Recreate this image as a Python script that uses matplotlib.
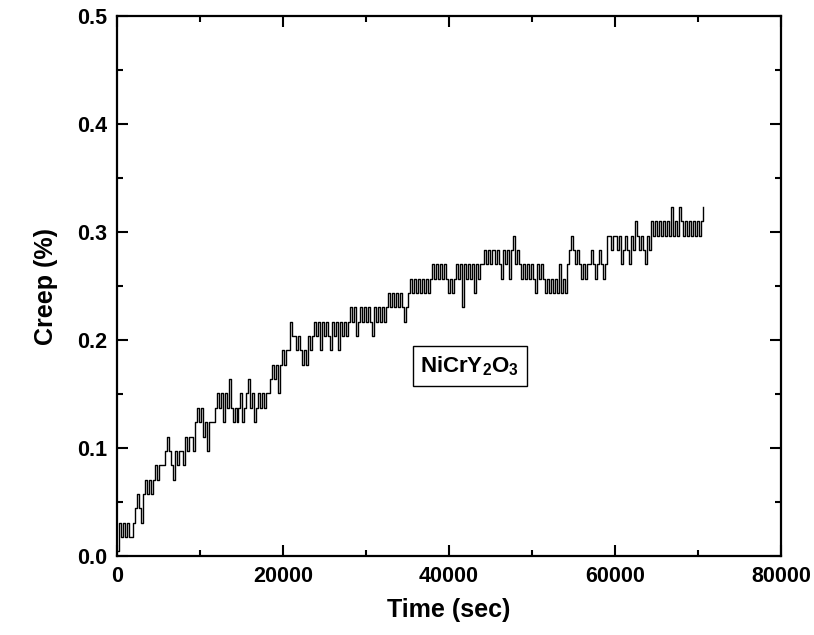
import numpy as np
import matplotlib as mpl
mpl.use('Agg')
import matplotlib.pyplot as plt
from matplotlib.ticker import MultipleLocator

plt.rcParams['font.family'] = 'Liberation Sans'
plt.rcParams['font.weight'] = 'bold'
plt.rcParams['mathtext.fontset'] = 'custom'
plt.rcParams['mathtext.rm'] = 'Liberation Sans:bold'
plt.rcParams['mathtext.it'] = 'Liberation Sans:bold'
plt.rcParams['mathtext.bf'] = 'Liberation Sans:bold'

# gauge reading in counts, one sample every 240 s
sample_dt = 240
counts = [
    0, 2, 1, 2, 1, 2, 1, 1, 2, 3,
    4, 3, 2, 4, 5, 4, 5, 4, 5, 6,
    5, 6, 6, 6, 7, 8, 7, 6, 5, 7,
    6, 7, 7, 6, 8, 7, 8, 8, 7, 9,
    10, 9, 10, 8, 9, 7, 9, 9, 9, 10,
    11, 10, 11, 9, 11, 10, 12, 10, 9, 10,
    9, 10, 11, 9, 10, 11, 12, 10, 11, 9,
    10, 11, 10, 11, 10, 11, 11, 12, 13, 12,
    13, 11, 13, 14, 13, 14, 14, 16, 15, 15,
    14, 15, 14, 13, 14, 13, 15, 14, 15, 16,
    15, 16, 14, 16, 15, 16, 15, 14, 16, 15,
    16, 14, 16, 15, 16, 15, 16, 17, 16, 17,
    15, 16, 17, 16, 17, 16, 17, 16, 15, 17,
    16, 17, 16, 17, 16, 17, 18, 17, 18, 17,
    18, 17, 18, 17, 16, 17, 18, 19, 18, 19,
    18, 19, 18, 19, 18, 19, 18, 19, 20, 19,
    20, 19, 20, 19, 20, 19, 18, 19, 18, 19,
    20, 19, 20, 17, 20, 19, 20, 19, 20, 18,
    20, 19, 20, 20, 21, 20, 21, 20, 21, 21,
    20, 21, 20, 19, 21, 20, 21, 19, 21, 22,
    20, 21, 20, 19, 20, 19, 20, 19, 20, 19,
    18, 20, 19, 20, 19, 18, 19, 18, 19, 18,
    19, 18, 20, 18, 19, 18, 20, 21, 22, 21,
    20, 21, 20, 19, 20, 19, 20, 20, 21, 20,
    19, 20, 21, 20, 19, 20, 22, 22, 21, 22,
    22, 21, 22, 20, 21, 22, 21, 20, 22, 21,
    23, 22, 21, 22, 21, 20, 22, 21, 23, 22,
    23, 22, 23, 22, 23, 22, 23, 22, 24, 22,
    23, 22, 24, 23, 22, 23, 22, 23, 22, 23,
    22, 23, 22, 23, 24,
]
count_size = 0.01329  # % creep per count
count_zero = 0.0043

time = np.arange(len(counts)) * sample_dt
creep = count_zero + np.array(counts) * count_size

fig = plt.figure(figsize=(8.14, 6.35), dpi=100)
ax = fig.add_axes([0.1437, 0.1244, 0.8158, 0.8504])
ax.plot(time, creep, color='black', lw=1.0, drawstyle='steps-post')

ax.set_xlim(0, 80000)
ax.set_ylim(0, 0.5)
ax.xaxis.set_major_locator(MultipleLocator(20000))
ax.xaxis.set_minor_locator(MultipleLocator(10000))
ax.yaxis.set_major_locator(MultipleLocator(0.1))
ax.yaxis.set_minor_locator(MultipleLocator(0.05))
ax.yaxis.set_major_formatter(mpl.ticker.FormatStrFormatter('%.1f'))
ax.tick_params(which='both', direction='in', top=True, right=True,
               width=1.5, labelsize=15.5, pad=7)
ax.tick_params(which='major', length=8)
ax.tick_params(which='minor', length=4.5)
for s in ax.spines.values():
    s.set_linewidth(1.6)

ax.set_xlabel('Time (sec)', fontsize=18, fontweight='bold', labelpad=8)
ax.set_ylabel('Creep (%)', fontsize=18, fontweight='bold', labelpad=14)

ax.text(42500, 0.176, r'NiCrY$_{2}$O$_{3}$', fontsize=16, fontweight='bold',
        ha='center', va='center',
        bbox=dict(boxstyle='square,pad=0.35', facecolor='white',
                  edgecolor='black', linewidth=1.0))

fig.savefig('out.png', dpi=100)
